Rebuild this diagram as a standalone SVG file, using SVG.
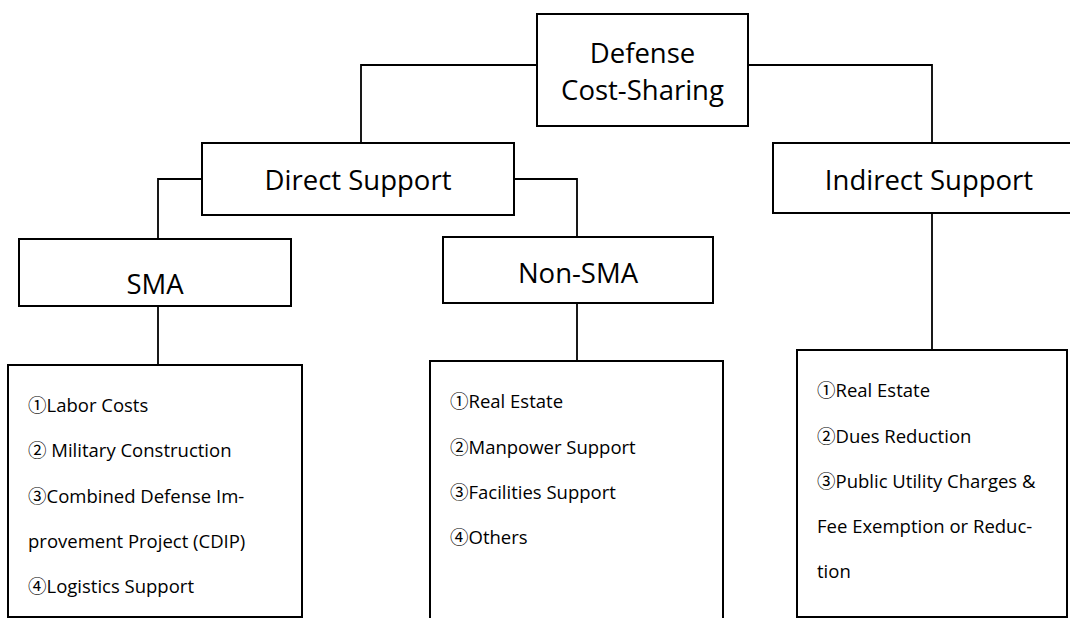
<svg xmlns="http://www.w3.org/2000/svg" width="1070" height="618" viewBox="0 0 1070 618">
<style>
.box{fill:#fff;stroke:#000;stroke-width:2}
.con{fill:none;stroke:#000;stroke-width:1.8}
.t{font-family:"Open Sans","Noto Sans","Noto Sans CJK SC",sans-serif;font-size:27.5px;fill:#000;text-anchor:middle}
.l{font-family:"Open Sans","Noto Sans","Noto Sans CJK SC",sans-serif;font-size:18.5px;fill:#000}
</style>
<rect width="1070" height="618" fill="#fff"/>
<g id="connectors">
<polyline class="con" points="537,65 361,65 361,143"/>
<polyline class="con" points="748,65 932,65 932,143"/>
<polyline class="con" points="202,179 158,179 158,239"/>
<polyline class="con" points="514,179 577,179 577,237"/>
<line class="con" x1="158" y1="306" x2="158" y2="365"/>
<line class="con" x1="577" y1="303" x2="577" y2="361"/>
<line class="con" x1="932" y1="213" x2="932" y2="350"/>
</g>
<g id="defense">
<rect class="box" x="537" y="14" width="211" height="112"/>
<text class="t" x="642.5" y="63">Defense</text>
<text class="t" x="642.5" y="100">Cost-Sharing</text>
</g>
<g id="direct">
<rect class="box" x="202" y="143" width="312" height="72"/>
<text class="t" x="358" y="190">Direct Support</text>
</g>
<g id="indirect">
<rect class="box" x="773" y="143" width="320" height="70"/>
<text class="t" x="929" y="190">Indirect Support</text>
</g>
<g id="sma">
<rect class="box" x="19" y="239" width="272" height="67"/>
<text class="t" x="155" y="294">SMA</text>
</g>
<g id="nonsma">
<rect class="box" x="443" y="237" width="270" height="66"/>
<text class="t" x="578" y="283">Non-SMA</text>
</g>
<g id="sma-list">
<rect class="box" x="8" y="365" width="294" height="252"/>
<text class="l" x="28" y="412">①Labor Costs</text>
<text class="l" x="28" y="457">② Military Construction</text>
<text class="l" x="28" y="503">③Combined Defense Im-</text>
<text class="l" x="28" y="548">provement Project (CDIP)</text>
<text class="l" x="28" y="593">④Logistics Support</text>
</g>
<g id="nonsma-list">
<rect class="box" x="430" y="361" width="293" height="280"/>
<text class="l" x="450" y="408">①Real Estate</text>
<text class="l" x="450" y="454">②Manpower Support</text>
<text class="l" x="450" y="499">③Facilities Support</text>
<text class="l" x="450" y="544">④Others</text>
</g>
<g id="indirect-list">
<rect class="box" x="797" y="350" width="270" height="267"/>
<text class="l" x="817" y="397">①Real Estate</text>
<text class="l" x="817" y="443">②Dues Reduction</text>
<text class="l" x="817" y="488">③Public Utility Charges &amp;</text>
<text class="l" x="817" y="533">Fee Exemption or Reduc-</text>
<text class="l" x="817" y="578">tion</text>
</g>
</svg>
